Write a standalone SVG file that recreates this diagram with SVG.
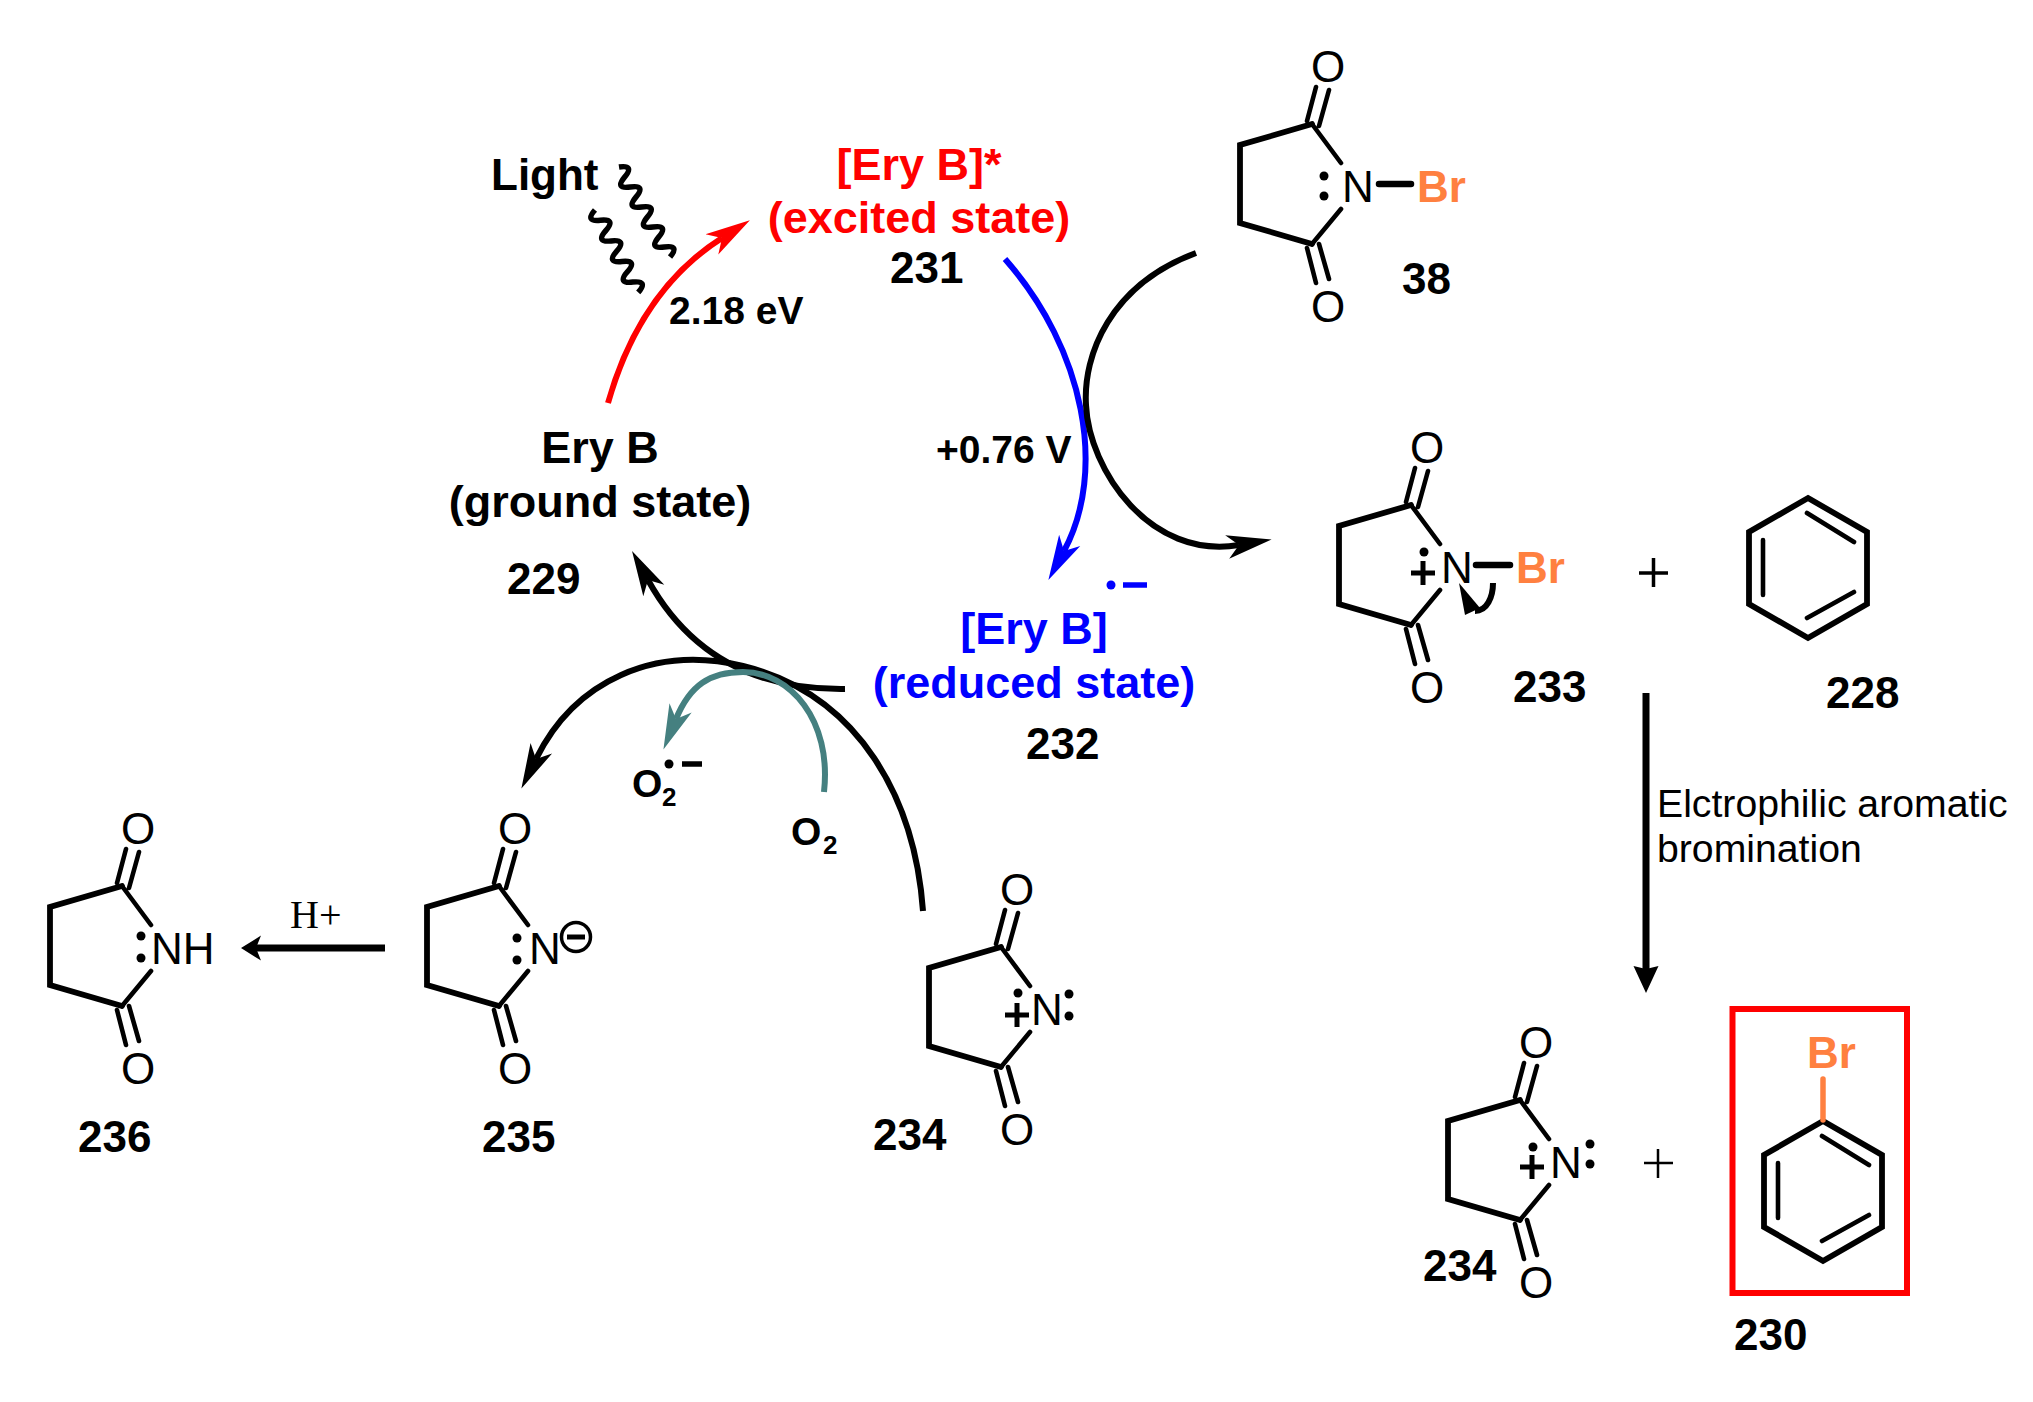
<svg xmlns="http://www.w3.org/2000/svg" width="2033" height="1402" viewBox="0 0 2033 1402">
<style>
text{font-family:"Liberation Sans",Arial,sans-serif;font-size:44px;fill:#000}
.b{font-weight:bold}
.m{text-anchor:middle}
.st{font-size:45px}
.s{font-size:39px;font-weight:bold}
.sub{font-size:26px;font-weight:bold}
.br{fill:#FF8040;font-weight:bold}
.red{fill:#F00;font-weight:bold}
.blue{fill:#00F;font-weight:bold}
.ser{font-family:"Liberation Serif",serif;font-size:40px}
.note{font-size:39.200px}
.bond{fill:none;stroke:#000;stroke-width:5.800;stroke-linecap:round;stroke-linejoin:miter}
.thin{fill:none;stroke:#000;stroke-width:4.600;stroke-linecap:round}
.nb{fill:none;stroke:#000;stroke-width:6.500;stroke-linecap:round}
.plus{fill:none;stroke:#000;stroke-width:5}
.pl{fill:none;stroke:#000}
.conn{fill:none;stroke-width:6}
.wave{fill:none;stroke:#000;stroke-width:5.500}
</style>
<defs>
<g id="ring">
<path class="bond" d="M-46 -62L-118 -41V37L-46 58"/>
<path class="thin" d="M-46 -62L-17 -23M-46 58L-17 23M-51 -65L-42 -99M-39 -60L-29 -96M-51 62L-42 97M-39 58L-29 93"/>
</g>
<path id="plus" class="plus" d="M-12 0H12M0 -12V12"/>
<g id="benz">
<path class="bond" d="M0 0L59 34V106L0 140L-59 106V34Z"/>
<path class="thin" d="M-1 15L46 44M-1 120L46 94M-45 42V97"/>
</g>
<marker id="hb" markerUnits="userSpaceOnUse" markerWidth="70" markerHeight="40" refX="12" refY="20" orient="auto" viewBox="0 0 70 40"><path d="M0 8L45 20L0 32L12 20Z" fill="#000"/></marker>
<marker id="hr" markerUnits="userSpaceOnUse" markerWidth="70" markerHeight="40" refX="12" refY="20" orient="auto" viewBox="0 0 70 40"><path d="M0 8L45 20L0 32L12 20Z" fill="#F00"/></marker>
<marker id="hu" markerUnits="userSpaceOnUse" markerWidth="70" markerHeight="40" refX="12" refY="20" orient="auto" viewBox="0 0 70 40"><path d="M0 8L45 20L0 32L12 20Z" fill="#00F"/></marker>
<marker id="ht" markerUnits="userSpaceOnUse" markerWidth="70" markerHeight="40" refX="12" refY="20" orient="auto" viewBox="0 0 70 40"><path d="M0 8L45 20L0 32L12 20Z" fill="#458080"/></marker>
<marker id="hv" markerUnits="userSpaceOnUse" markerWidth="40" markerHeight="40" refX="3" refY="20" orient="auto" viewBox="0 0 40 40"><path d="M0 7.500L27 20L0 32.500L3 20Z" fill="#000"/></marker>
<marker id="hp" markerUnits="userSpaceOnUse" markerWidth="40" markerHeight="40" refX="5" refY="20" orient="auto" viewBox="0 0 40 40"><path d="M0 7.500L20 20L0 32.500L5 20Z" fill="#000"/></marker>
</defs>

<g id="connectors">
<path class="conn" stroke="#F00" marker-end="url(#hr)" d="M608 403Q640 290 722 238"/>
<path class="conn" stroke="#00F" marker-end="url(#hu)" d="M1005 259C1085 350 1107 471 1064 551"/>
<path class="conn" stroke="#000" marker-end="url(#hb)" d="M1196 253C1110 285 1083 355 1086 405C1089 470 1150 560 1239 545"/>
<path class="conn" stroke="#000" marker-end="url(#hb)" d="M845 689C770 690 695 665 648 580"/>
<path class="conn" stroke="#000" marker-end="url(#hb)" d="M923 911C915 800 860 695 743 666C655 645 575 680 536 759"/>
<path class="conn" stroke="#458080" marker-end="url(#ht)" d="M824 792C832 720 790 672 743 672C710 672 690 685 676 719"/>
<path class="conn" stroke="#000" marker-end="url(#hp)" d="M385 948H256" style="stroke-width:7"/>
<path class="conn" stroke="#000" marker-end="url(#hv)" d="M1646 693V969" style="stroke-width:7"/>
<path class="wave" d="M619 167q15.800 -2.400 5.670 10t5.670 10t5.670 10t5.670 10t5.670 10t5.670 10t5.670 10t5.670 10t5.670 10"/>
<path class="wave" d="M595 210q-10.500 12 5.400 10.300t5.400 10.300t5.400 10.300t5.400 10.300t5.400 10.300t5.400 10.300t5.400 10.300t5.400 10.300"/>
</g>

<g id="state-229">
<text class="b m st" x="600" y="463">Ery B</text>
<text class="b m st" x="600" y="517">(ground state)</text>
<text class="b" x="507" y="594">229</text>
</g>
<g id="state-231">
<text class="red m st" x="919" y="180">[Ery B]*</text>
<text class="red m st" x="919" y="233">(excited state)</text>
<text class="b" x="890" y="283">231</text>
</g>
<g id="state-232">
<text class="blue m st" x="1034" y="644">[Ery B]</text>
<text class="blue m st" x="1034" y="698">(reduced state)</text>
<circle cx="1111" cy="585" r="4.500" fill="#00F"/>
<path d="M1123 585H1147" stroke="#00F" stroke-width="5.500"/>
<text class="b" x="1026" y="759">232</text>
</g>
<g id="light"><text class="b" x="491" y="190">Light</text></g>
<g id="label-energy"><text class="s" x="669" y="324">2.18 eV</text></g>
<g id="label-potential"><text class="s" x="936" y="463">+0.76 V</text></g>

<g id="compound-38">
<g transform="translate(1358 186)">
<use href="#ring"/>
<text class="m" x="-30" y="-104">O</text><text class="m" x="-30" y="136">O</text>
<text class="m" x="0" y="16">N</text>
<circle cx="-34" cy="-10" r="4.500"/><circle cx="-34" cy="10" r="4.500"/>
<path class="nb" d="M21 -2H53"/>
<text class="br" x="59" y="16">Br</text>
</g>
<text class="b" x="1402" y="294">38</text>
</g>

<g id="compound-233">
<g transform="translate(1457 567)">
<use href="#ring"/>
<text class="m" x="-30" y="-104">O</text><text class="m" x="-30" y="136">O</text>
<text class="m" x="0" y="16">N</text>
<circle cx="-33" cy="-15" r="4.500"/><use href="#plus" x="-34" y="6"/>
<path class="nb" d="M19 -2H53"/>
<text class="br" x="59" y="16">Br</text>
<path d="M36 16C36 30 30 44 18 44" fill="none" stroke="#000" stroke-width="6"/>
<path d="M2 16L8 48L23 41Z"/>
</g>
<text class="b" x="1513" y="702">233</text>
</g>

<g id="plus-1"><path class="pl" stroke-width="3.500" d="M1639 573H1668M1653.500 558V587"/></g>

<g id="compound-228">
<use href="#benz" x="1808" y="498"/>
<text class="b" x="1826" y="708">228</text>
</g>

<g id="label-bromination">
<text class="note" x="1657" y="817">Elctrophilic aromatic</text>
<text class="note" x="1657" y="862">bromination</text>
</g>

<g id="compound-234b">
<g transform="translate(1566 1162)">
<use href="#ring"/>
<text class="m" x="-30" y="-104">O</text><text class="m" x="-30" y="136">O</text>
<text class="m" x="0" y="16">N</text>
<circle cx="-33" cy="-15" r="4.500"/><use href="#plus" x="-34" y="5"/>
<circle cx="24" cy="-18" r="4.500"/><circle cx="24" cy="2" r="4.500"/>
</g>
<text class="b" x="1423" y="1281">234</text>
</g>

<g id="plus-2"><path class="pl" stroke-width="2.500" d="M1644 1163H1673M1658 1149V1178"/></g>

<g id="compound-230">
<rect x="1732.500" y="1009" width="174.500" height="284" fill="none" stroke="#F00" stroke-width="6"/>
<use href="#benz" x="1823" y="1121"/>
<path d="M1823 1079V1120" stroke="#FF8040" stroke-width="5.500" stroke-linecap="round"/>
<text class="br" x="1807" y="1068">Br</text>
<text class="b" x="1734" y="1350">230</text>
</g>

<g id="compound-234">
<g transform="translate(1047 1009)">
<use href="#ring"/>
<text class="m" x="-30" y="-104">O</text><text class="m" x="-30" y="136">O</text>
<text class="m" x="0" y="16">N</text>
<circle cx="-29" cy="-16" r="4.500"/><use href="#plus" x="-30" y="6"/>
<circle cx="22" cy="-15" r="4.500"/><circle cx="22" cy="7" r="4.500"/>
</g>
<text class="b" x="873" y="1150">234</text>
</g>

<g id="compound-235">
<g transform="translate(545 948)">
<use href="#ring"/>
<text class="m" x="-30" y="-104">O</text><text class="m" x="-30" y="136">O</text>
<text class="m" x="0" y="16">N</text>
<circle cx="-28" cy="-10" r="4.500"/><circle cx="-28" cy="12" r="4.500"/>
<circle cx="31" cy="-11" r="14.500" fill="none" stroke="#000" stroke-width="3.500"/>
<path d="M22 -11H40" stroke="#000" stroke-width="5"/>
</g>
<text class="b" x="482" y="1152">235</text>
</g>

<g id="compound-236">
<g transform="translate(168 948)">
<use href="#ring"/>
<text class="m" x="-30" y="-104">O</text><text class="m" x="-30" y="136">O</text>
<text x="-17" y="16">NH</text>
<circle cx="-27" cy="-12" r="4.500"/><circle cx="-27" cy="10" r="4.500"/>
</g>
<text class="b" x="78" y="1152">236</text>
</g>

<g id="label-proton"><text class="ser" x="290" y="928">H+</text></g>

<g id="superoxide">
<text class="s" x="632" y="797">O</text><text class="sub" x="662" y="806">2</text>
<circle cx="669" cy="764" r="4.500"/>
<path d="M682 764H702" stroke="#000" stroke-width="5.500"/>
</g>
<g id="oxygen">
<text class="s" x="791" y="845">O</text><text class="sub" x="823" y="854">2</text>
</g>
</svg>
